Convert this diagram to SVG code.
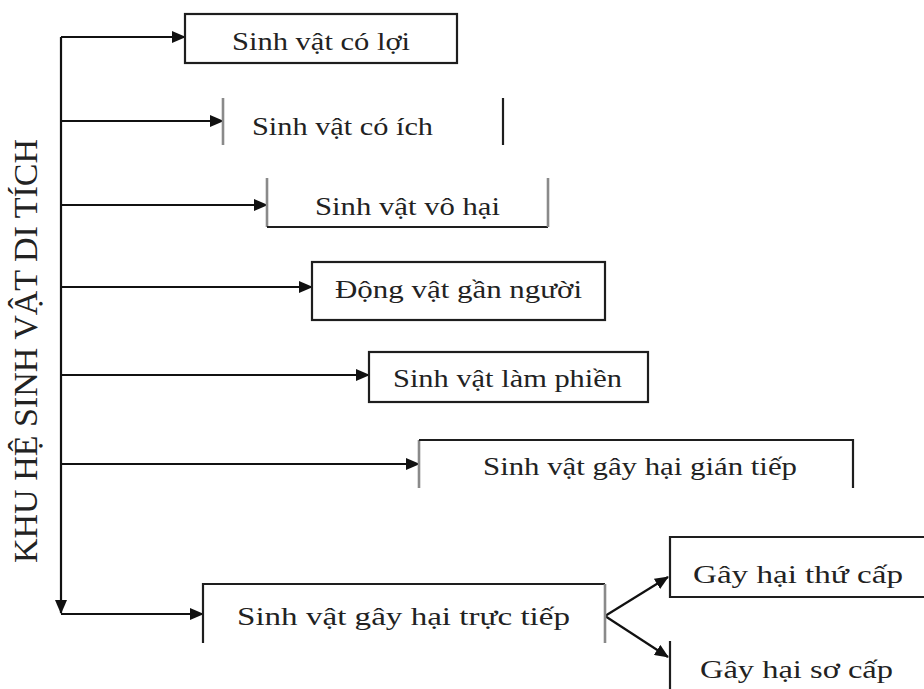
<svg xmlns="http://www.w3.org/2000/svg" width="924" height="689" viewBox="0 0 924 689">
<defs>
<marker id="ah" markerUnits="userSpaceOnUse" markerWidth="14" markerHeight="12" refX="13" refY="6" orient="auto">
<path d="M0,0 L14,6 L0,12 Z" fill="#111"/>
</marker>
<style>
.t{font-family:"Liberation Serif","Times New Roman",serif;font-size:26px;fill:#222}
.b{fill:none;stroke:#1e1e1e;stroke-width:2.2}
.g{fill:none;stroke:#8a8a8a;stroke-width:2.6}
.c{fill:none;stroke:#111;stroke-width:2.2}
</style>
</defs>
<rect width="924" height="689" fill="#fff"/>
<g id="title">
<text class="t" style="font-size:33px" transform="translate(37,351) rotate(-90)" text-anchor="middle" textLength="424" lengthAdjust="spacingAndGlyphs">KHU HỆ SINH VẬT DI TÍCH</text>
</g>
<g id="connectors">
<path class="c" d="M61,37 V613" marker-end="url(#ah)"/>
<path class="c" d="M61,37 H185" marker-end="url(#ah)"/>
<path class="c" d="M61,121 H223" marker-end="url(#ah)"/>
<path class="c" d="M61,205 H267" marker-end="url(#ah)"/>
<path class="c" d="M61,287 H312" marker-end="url(#ah)"/>
<path class="c" d="M61,375 H369" marker-end="url(#ah)"/>
<path class="c" d="M61,464 H419" marker-end="url(#ah)"/>
<path class="c" d="M61,614 H203" marker-end="url(#ah)"/>
<path class="c" d="M605,616 L668,577" marker-end="url(#ah)"/>
<path class="c" d="M605,616 L668,657" marker-end="url(#ah)"/>
</g>
<g id="n1">
<rect class="b" x="185" y="14" width="272" height="49"/>
<text class="t" x="232" y="50" textLength="178" lengthAdjust="spacingAndGlyphs">Sinh vật có lợi</text>
</g>
<g id="n2">
<path class="g" d="M223,98 V145"/>
<path class="b" d="M503,98 V145"/>
<text class="t" x="252" y="135" textLength="181" lengthAdjust="spacingAndGlyphs">Sinh vật có ích</text>
</g>
<g id="n3">
<path class="g" d="M267,178 V227"/>
<path class="b" d="M267,227 H548"/>
<path class="g" d="M548,178 V227"/>
<text class="t" x="315" y="215" textLength="185" lengthAdjust="spacingAndGlyphs">Sinh vật vô hại</text>
</g>
<g id="n4">
<rect class="b" x="312" y="262" width="293" height="58"/>
<text class="t" x="335" y="298" textLength="247" lengthAdjust="spacingAndGlyphs">Động vật gần người</text>
</g>
<g id="n5">
<rect class="b" x="369" y="352" width="279" height="50"/>
<text class="t" x="393" y="387" textLength="229" lengthAdjust="spacingAndGlyphs">Sinh vật làm phiền</text>
</g>
<g id="n6">
<path class="g" d="M419,440 V488"/>
<path class="b" d="M419,440 H853 V488"/>
<text class="t" x="483" y="475" textLength="314" lengthAdjust="spacingAndGlyphs">Sinh vật gây hại gián tiếp</text>
</g>
<g id="n7">
<path class="b" d="M203,643 V584 H605"/>
<path class="g" d="M605,584 V643"/>
<text class="t" x="237" y="625" textLength="333" lengthAdjust="spacingAndGlyphs">Sinh vật gây hại trực tiếp</text>
</g>
<g id="n8">
<path class="b" d="M926,537 H670 V597 H926"/>
<text class="t" x="693" y="583" textLength="210" lengthAdjust="spacingAndGlyphs">Gây hại thứ cấp</text>
</g>
<g id="n9">
<path class="b" d="M670,641 V689"/>
<text class="t" x="700" y="678" textLength="193" lengthAdjust="spacingAndGlyphs">Gây hại sơ cấp</text>
</g>
</svg>
